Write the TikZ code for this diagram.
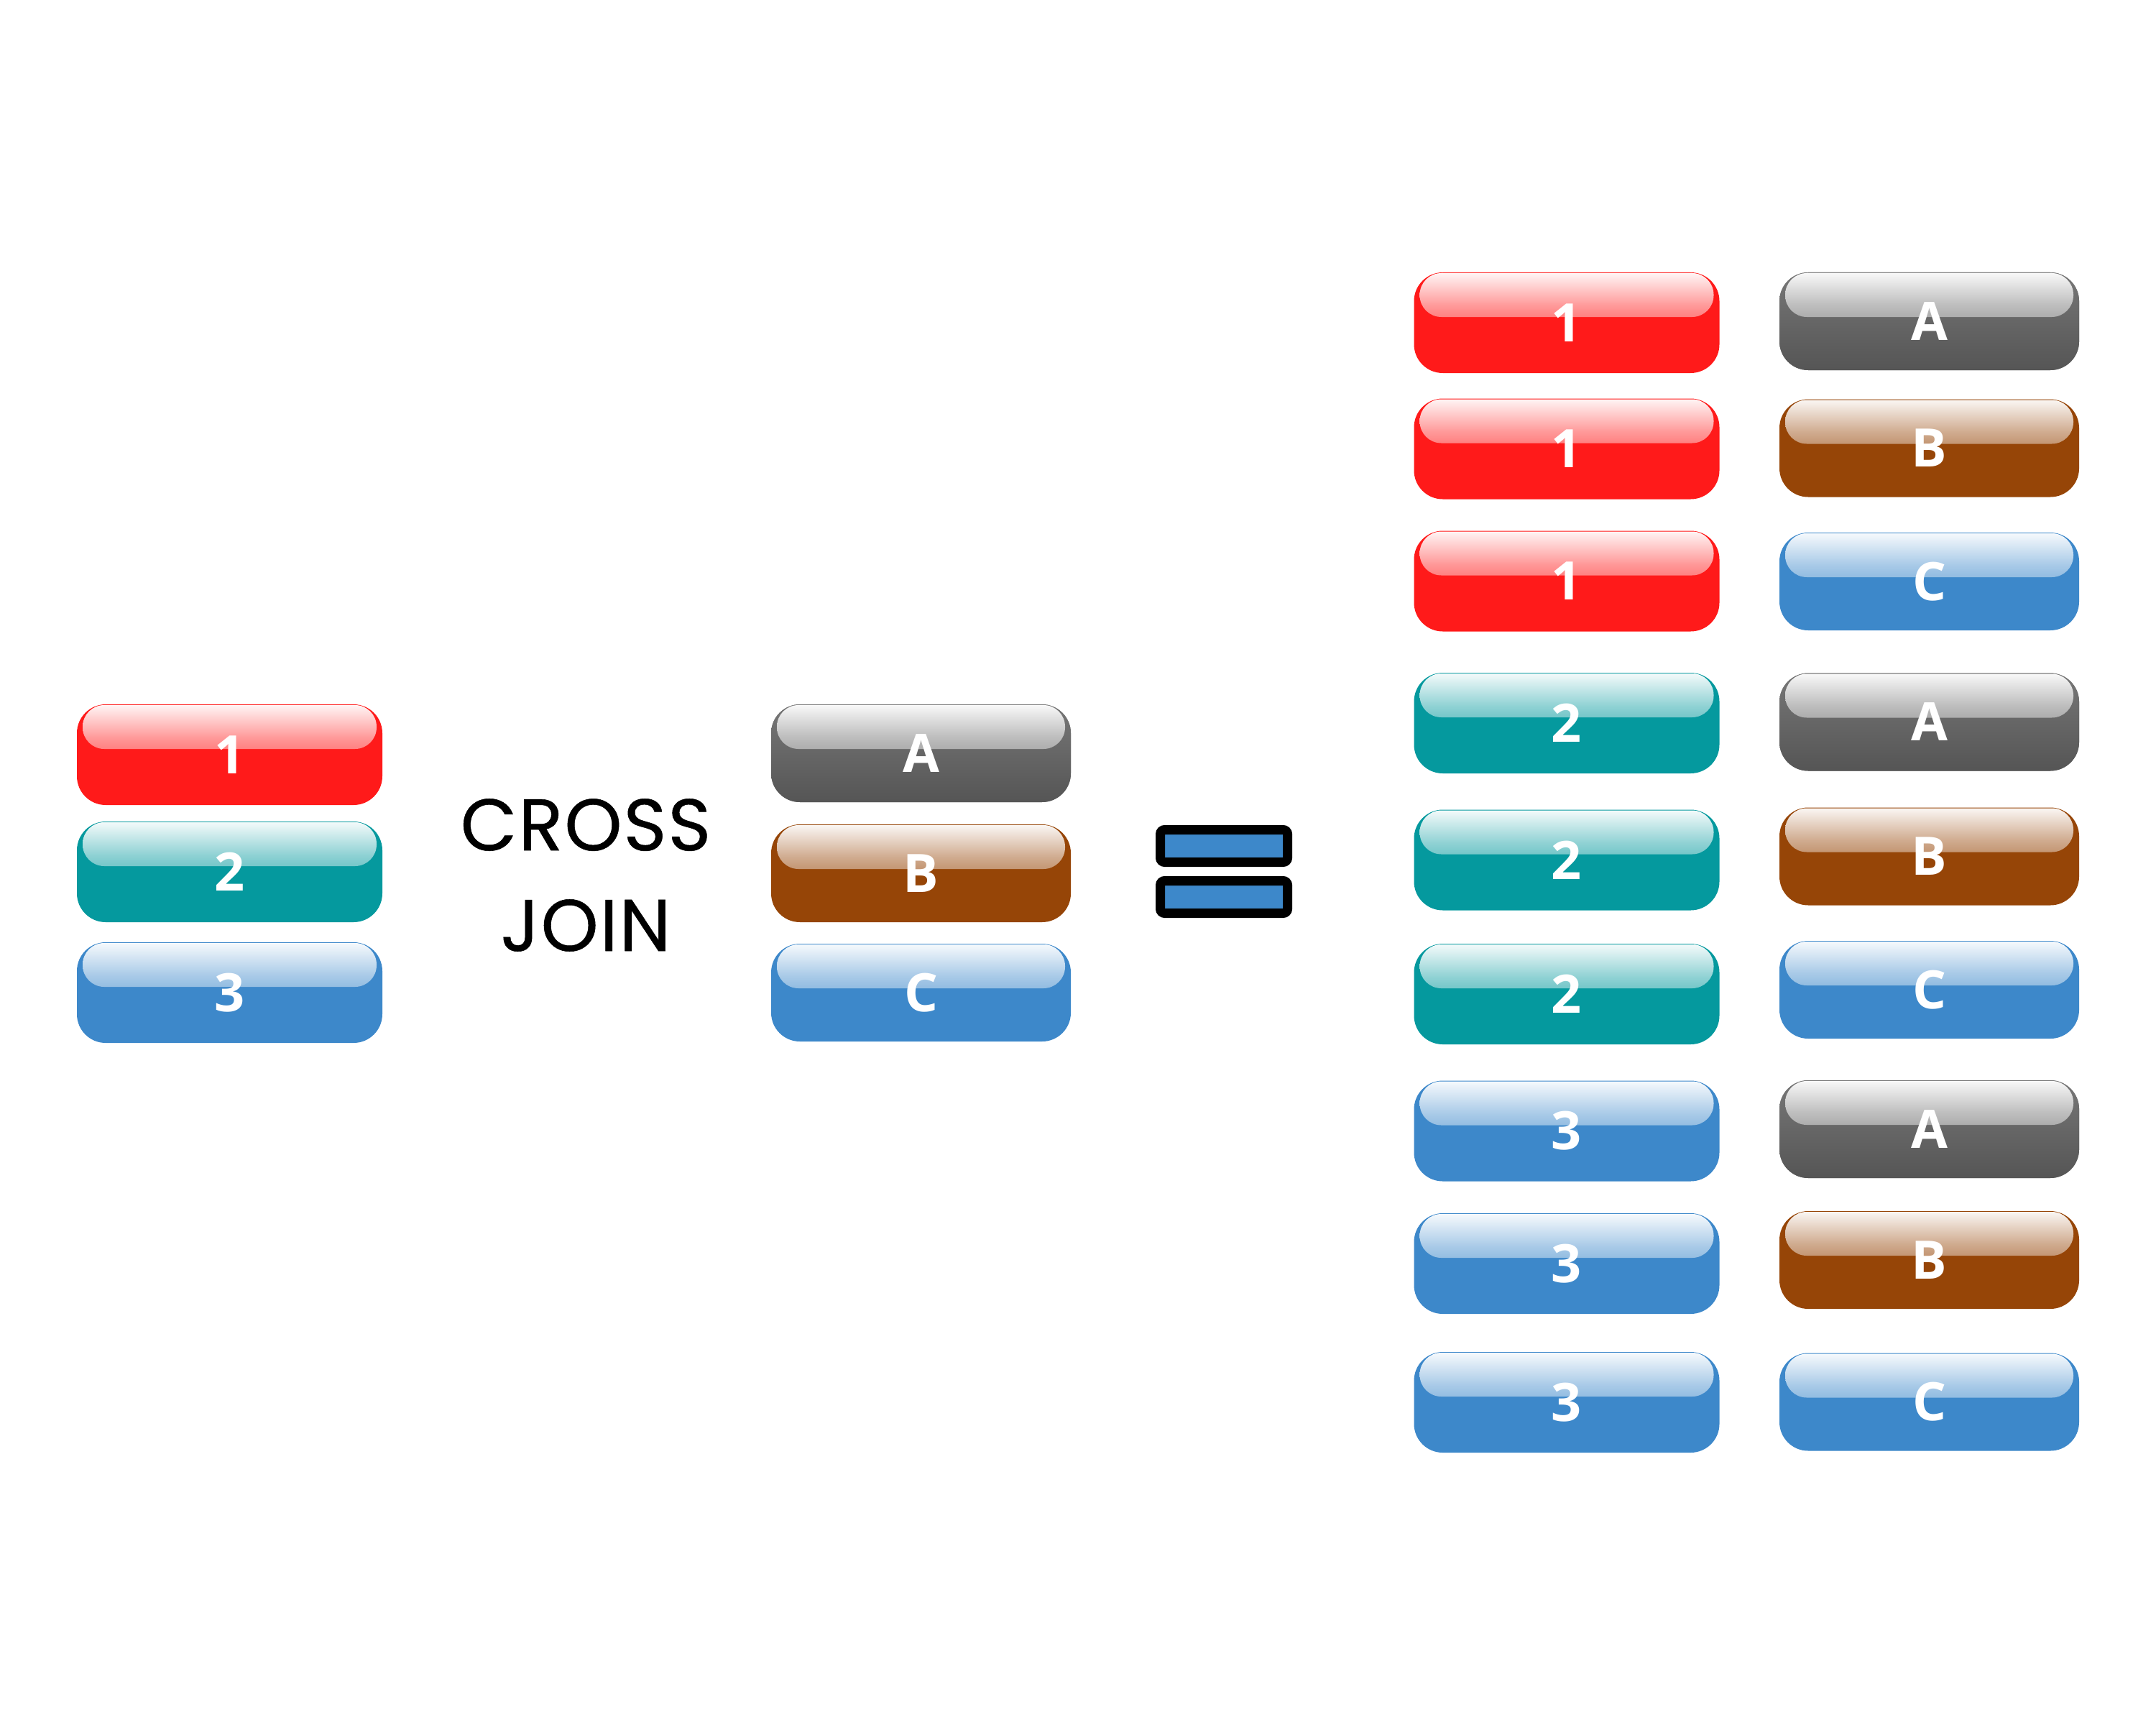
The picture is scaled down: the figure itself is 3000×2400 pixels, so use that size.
\documentclass[tikz,border=0pt]{standalone}
\usepackage{fontspec}
\newfontfamily\btnfont{Open Sans}
\newfontfamily\crossfont{Poppins}[FakeBold=0.5, LetterSpace=2.0]
\definecolor{btnred}{HTML}{FF1A1A}
\definecolor{btnteal}{HTML}{05999E}
\definecolor{btnblue}{HTML}{3D88CA}
\definecolor{btngray}{HTML}{555555}
\definecolor{btnbrown}{HTML}{964507}
\colorlet{glossbase}{btnred}
\pgfdeclareverticalshading[glossbase]{gloss}{100bp}{color(0bp)=(glossbase); color(25bp)=(white!2!glossbase); color(41.7bp)=(white!24!glossbase); color(58.3bp)=(white!55!glossbase); color(75bp)=(white!96!glossbase); color(100bp)=(white!96!glossbase)}
\tikzset{
  btn/.style={rounded corners=4mm, fill=#1, text=white, inner sep=0pt,
    minimum width=42.5mm, minimum height=14mm,
    font=\btnfont\bfseries\fontsize{21}{21}\selectfont,
    path picture={
      \colorlet{glossbase}{#1}
      \shade[rounded corners=3mm, shading=gloss]
        ([xshift=0.8mm,yshift=-0.1mm]path picture bounding box.north west) rectangle
        ([xshift=-0.8mm,yshift=-6.2mm]path picture bounding box.north east);
    }},
  letbtn/.style={btn=#1, minimum width=41.7mm, minimum height=13.6mm},
  graybtn/.style={letbtn=btngray!86!white, top color=btngray!80!white, bottom color=btngray},
  eqbar/.style={draw, line width=1.3mm, fill=btnblue, rounded corners=0.6mm,
    minimum width=17.7mm, minimum height=4.5mm, inner sep=0pt}
}
\begin{document}
\begin{tikzpicture}[x=0.1mm, y=-0.1mm]
    \useasboundingbox (0,0) rectangle (3000,2400);

    % Bảng thứ nhất
    \node[btn=btnred]  (num1) at (319.5,1050) {1};
    \node[btn=btnteal] (num2) at (319.5,1213) {2};
    \node[btn=btnblue] (num3) at (319.5,1381) {3};

    % Chữ ở giữa
    \node[font=\crossfont\fontsize{29}{39.8}\selectfont, align=center] (cross) at (815,1217.5) {CROSS\\JOIN};

    % Bảng thứ hai
    \node[graybtn]           (letA) at (1281.5,1048) {A};
    \node[letbtn=btnbrown]   (letB) at (1281.5,1215) {B};
    \node[letbtn=btnblue]    (letC) at (1281.5,1381) {C};

    % Dấu bằng
    \node[eqbar] (eqtop) at (1703,1177) {};
    \node[eqbar] (eqbot) at (1703,1248) {};

    % Kết quả
    \node[btn=btnred]  (r1l) at (2180,449) {1};
    \node[btn=btnred]  (r2l) at (2180,624.5) {1};
    \node[btn=btnred]  (r3l) at (2180,808.5) {1};
    \node[btn=btnteal] (r4l) at (2180,1006) {2};
    \node[btn=btnteal] (r5l) at (2180,1196.5) {2};
    \node[btn=btnteal] (r6l) at (2180,1383) {2};
    \node[btn=btnblue] (r7l) at (2180,1573.5) {3};
    \node[btn=btnblue] (r8l) at (2180,1758) {3};
    \node[btn=btnblue] (r9l) at (2180,1951) {3};

    \node[graybtn]         (r1r) at (2684.5,447) {A};
    \node[letbtn=btnbrown] (r2r) at (2684.5,623.5) {B};
    \node[letbtn=btnblue]  (r3r) at (2684.5,809) {C};
    \node[graybtn]         (r4r) at (2684.5,1004.5) {A};
    \node[letbtn=btnbrown] (r5r) at (2684.5,1191.5) {B};
    \node[letbtn=btnblue]  (r6r) at (2684.5,1377) {C};
    \node[graybtn]         (r7r) at (2684.5,1571) {A};
    \node[letbtn=btnbrown] (r8r) at (2684.5,1753) {B};
    \node[letbtn=btnblue]  (r9r) at (2684.5,1950.5) {C};
\end{tikzpicture}
\end{document}
